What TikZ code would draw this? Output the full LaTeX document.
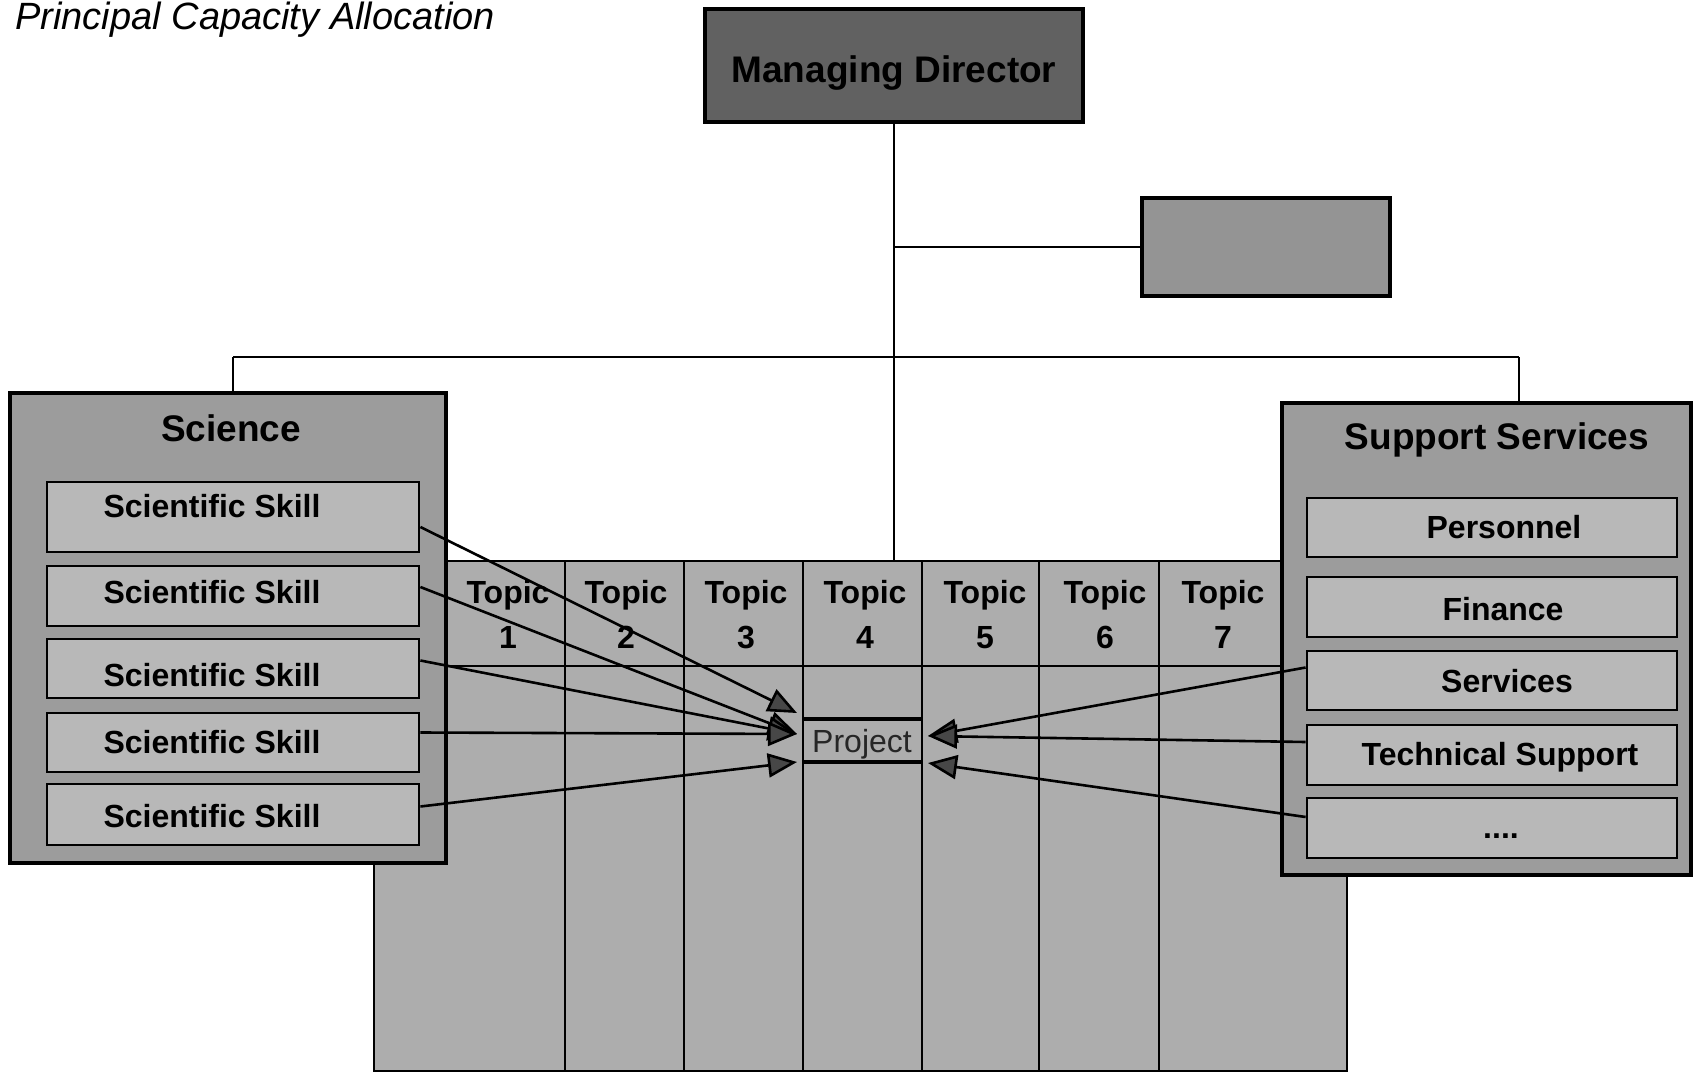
\documentclass[tikz,border=0pt]{standalone}
\usepackage{fontspec}
\setmainfont{Liberation Sans}
\usetikzlibrary{arrows.meta,calc}

% rectangle node given by its two corners (picture units): style, name, x1, y1, x2, y2
\newcommand\rectnode[6]{%
  \pgfmathsetmacro\rectw{(#5-#3)*0.5}%
  \pgfmathsetmacro\recth{(#6-#4)*0.5}%
  \node[#1, minimum width=\rectw pt, minimum height=\recth pt, inner sep=0pt]
    (#2) at ({(#3+#5)/2},{(#4+#6)/2}) {};%
}

\begin{document}
\begin{tikzpicture}[x=0.5pt,y=-0.5pt,
  outerbox/.style={draw, line width=1.6pt, fill=black!39},
  itembox/.style={draw, line width=1.4pt, fill=black!28},
  headbox/.style={draw, line width=1.6pt, fill=black!62},
  auxbox/.style={draw, line width=1.6pt, fill=black!42},
  gridbox/.style={draw, line width=1.3pt, fill=black!32},
  gridline/.style={line width=1.1pt},
  projbox/.style={draw=none},
  conn/.style={line width=1.3pt},
  arr/.style={conn, -{Triangle[length=14.5pt,width=12pt,fill=black!72]}},
  titletext/.style={font=\itshape\fontsize{19}{21}\selectfont, anchor=base west, inner sep=0pt},
  bigtext/.style={font=\bfseries\fontsize{18.5}{21}\selectfont, anchor=base, inner sep=0pt},
  itemtext/.style={font=\bfseries\fontsize{16}{18}\selectfont, anchor=base, inner sep=0pt},
  topictext/.style={font=\bfseries\fontsize{16}{18}\selectfont, anchor=base, inner sep=0pt},
  projtext/.style={font=\fontsize{16}{18}\selectfont, anchor=base, inner sep=0pt, text=black!85},
  ]
\useasboundingbox (0,0) rectangle (1693,1076);

% title
\node[titletext] (title) at (15,29) {Principal Capacity Allocation};

% top of the hierarchy
\rectnode{headbox}{md}{705}{9}{1083}{122}
\node[bigtext] (mdt) at (894,83) {Managing Director};
\rectnode{auxbox}{aux}{1142}{198}{1390}{296}

% topic matrix
\rectnode{gridbox}{tab}{374}{561}{1347}{1071}
\foreach \cx in {565,684,803,922,1039,1159}
  \draw[gridline] (\cx,561) -- (\cx,1071);
\draw[gridline] (374,666) -- (1347,666);
\foreach \tx/\tn in {508/1,626/2,746/3,865/4,985/5,1105/6,1223/7}{
  \node[topictext] (topic\tn) at (\tx,603) {Topic};
  \node[topictext] (num\tn) at (\tx,648) {\tn};
}
\rectnode{projbox}{proj}{803}{719}{922}{762}
\draw[line width=2pt] (proj.north west) -- (proj.north east)
                      (proj.south west) -- (proj.south east);
\node[projtext] (projt) at (862,752) {Project};

% reporting lines
\coordinate (busL) at (233,357);
\coordinate (busR) at (1519,357);
\draw[conn] (md.south) -- (md.south |- tab.north);
\draw[conn] (md.south |- aux.west) -- (aux.west);
\draw[conn] (busL) -- (busR);

% science division
\rectnode{outerbox}{sci}{10}{393}{446}{863}
\draw[conn] (busL) -- (busL |- sci.north);
\node[bigtext] (scit) at (231,441) {Science};
\rectnode{itembox}{sk1}{47}{482}{419}{552}
\rectnode{itembox}{sk2}{47}{566}{419}{626}
\rectnode{itembox}{sk3}{47}{639}{419}{698}
\rectnode{itembox}{sk4}{47}{713}{419}{772}
\rectnode{itembox}{sk5}{47}{784}{419}{845}
\node[itemtext] (sk1t) at (212,517) {Scientific Skill};
\node[itemtext] (sk2t) at (212,603) {Scientific Skill};
\node[itemtext] (sk3t) at (212,686) {Scientific Skill};
\node[itemtext] (sk4t) at (212,753) {Scientific Skill};
\node[itemtext] (sk5t) at (212,827) {Scientific Skill};

% support division
\rectnode{outerbox}{sup}{1282}{403}{1691}{875}
\draw[conn] (busR) -- (busR |- sup.north);
\node[bigtext] (supt) at (1497,449) {Support Services};
\rectnode{itembox}{pers}{1307}{498}{1677}{557}
\rectnode{itembox}{fin}{1307}{577}{1677}{637}
\rectnode{itembox}{serv}{1307}{651}{1677}{710}
\rectnode{itembox}{tech}{1307}{725}{1677}{785}
\rectnode{itembox}{more}{1307}{798}{1677}{858}
\node[itemtext] (perst) at (1504,538) {Personnel};
\node[itemtext] (fint) at (1503,620) {Finance};
\node[itemtext] (servt) at (1507,692) {Services};
\node[itemtext] (techt) at (1500,765) {Technical Support};
\node[itemtext] (moret) at (1501,838) {....};

% capacity flowing into the project
\coordinate (tipL1) at (797,713);
\coordinate (tipL2) at (797,734);
\coordinate (tipL3) at (797,762);
\coordinate (tipR1) at (928,736);
\coordinate (tipR2) at (928,763);
\draw[arr] ($(sk1.east)+(0,10)$) -- (tipL1);
\draw[arr] ($(sk2.east)+(0,-9)$) -- (tipL2);
\draw[arr] ($(sk3.east)+(0,-8)$) -- (tipL2);
\draw[arr] ($(sk4.east)+(0,-10)$) -- (tipL2);
\draw[arr] ($(sk5.east)+(0,-8)$) -- (tipL3);
\draw[arr] ($(serv.west)+(0,-13)$) -- (tipR1);
\draw[arr] ($(tech.west)+(0,-13)$) -- (tipR1);
\draw[arr] ($(more.west)+(0,-11)$) -- (tipR2);
\end{tikzpicture}
\end{document}
